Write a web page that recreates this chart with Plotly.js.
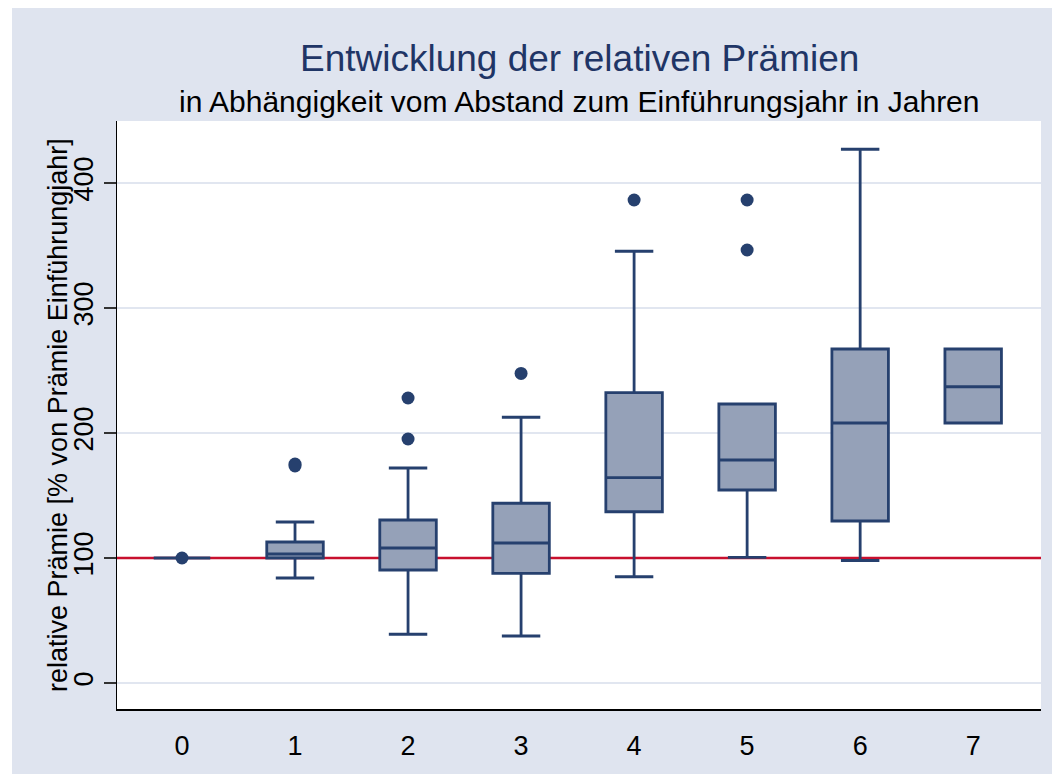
<!DOCTYPE html>
<html>
<head>
<meta charset="utf-8">
<script src="https://cdn.plot.ly/plotly-3.0.1.min.js"></script>
<style>
html,body{margin:0;padding:0;background:#ffffff;}
#chart{position:absolute;left:12px;top:8px;width:1040px;height:766px;}
</style>
</head>
<body>
<div id="chart"></div>
<script>
// Data
const years      = [0, 1, 2, 3, 4, 5, 6, 7];
const lowerFence = [100, 84, 39, 37.6, 85, 100.5, 98, 208];
const q1         = [100, 100, 90.4, 87.7, 137, 154.4, 129.6, 208];
const median     = [100, 103.2, 108, 112, 164.3, 178.4, 208, 237];
const q3         = [100, 112.8, 130.4, 143.8, 232.3, 223.2, 267.2, 267.2];
const upperFence = [100, 128.8, 172, 212.6, 345.4, 223.2, 427, 267.2];
const outlierX   = [0, 1, 1, 2, 2, 3, 4, 5, 5];
const outlierY   = [100, 175.2, 173.6, 195.2, 228, 247.7, 386.4, 386.4, 346.4];
const yTicks     = [0, 100, 200, 300, 400];
const refLine    = 100;

const xRange = [-0.575, 7.6];
const yRange = [-20.8, 449.6];
const navy = '#26406e';
const font = '"Liberation Sans", Arial, sans-serif';

const traces = [
  {
    type: 'box',
    x: years,
    q1: q1, median: median, q3: q3,
    lowerfence: lowerFence, upperfence: upperFence,
    boxpoints: false,
    width: 0.5,
    whiskerwidth: 0.68,
    fillcolor: '#95a1b8',
    line: {color: navy, width: 2.8},
    hoverinfo: 'skip',
    showlegend: false
  },
  {
    type: 'scatter', mode: 'markers',
    x: outlierX, y: outlierY,
    marker: {color: navy, size: 13, line: {width: 0}},
    hoverinfo: 'skip',
    showlegend: false
  }
];

const layout = {
  width: 1040, height: 766,
  paper_bgcolor: '#dfe4ef',
  plot_bgcolor: '#ffffff',
  margin: {l: 105, r: 11, t: 113, b: 65},
  font: {family: font, color: '#000', size: 27},
  showlegend: false,
  xaxis: {
    range: xRange,
    tickvals: years,
    ticktext: years.map(String),
    ticks: '',
    ticklabelstandoff: 12,
    showgrid: false,
    zeroline: false,
    showline: true, linecolor: '#000', linewidth: 1.5,
    tickfont: {size: 27, family: font, color: '#000'},
    fixedrange: true
  },
  yaxis: {
    range: yRange,
    tickvals: yTicks,
    ticktext: yTicks.map(String),
    tickangle: -90,
    ticks: 'outside', ticklen: 12, tickwidth: 1.5, tickcolor: '#333',
    showgrid: true, gridcolor: '#e1e6f0', gridwidth: 2,
    zeroline: false,
    showline: true, linecolor: '#000', linewidth: 1.5,
    tickfont: {size: 27, family: font, color: '#000'},
    fixedrange: true
  },
  shapes: [
    {type: 'line', xref: 'x', x0: xRange[0], x1: xRange[1], yref: 'y', y0: refLine, y1: refLine,
     line: {color: '#c8102e', width: 2.5}, layer: 'between'}
  ],
  annotations: [
    {text: 'Entwicklung der relativen Prämien', xref: 'paper', yref: 'paper',
     x: 0.5, y: 1.107, xanchor: 'center', yanchor: 'middle', showarrow: false,
     font: {size: 37, family: font, color: '#1f3566'}},
    {text: 'in Abhängigkeit vom Abstand zum Einführungsjahr in Jahren', xref: 'paper', yref: 'paper',
     x: 0.5, y: 1.034, xanchor: 'center', yanchor: 'middle', showarrow: false,
     font: {size: 30, family: font, color: '#000'}},
    {text: 'relative Prämie [% von Prämie Einführungjahr]', xref: 'paper', yref: 'paper',
     x: -0.0639, y: 0.5, xanchor: 'center', yanchor: 'middle', textangle: -90, showarrow: false,
     font: {size: 27, family: font, color: '#000'}}
  ]
};

Plotly.newPlot('chart', traces, layout, {displayModeBar: false, staticPlot: true});
</script>
</body>
</html>
